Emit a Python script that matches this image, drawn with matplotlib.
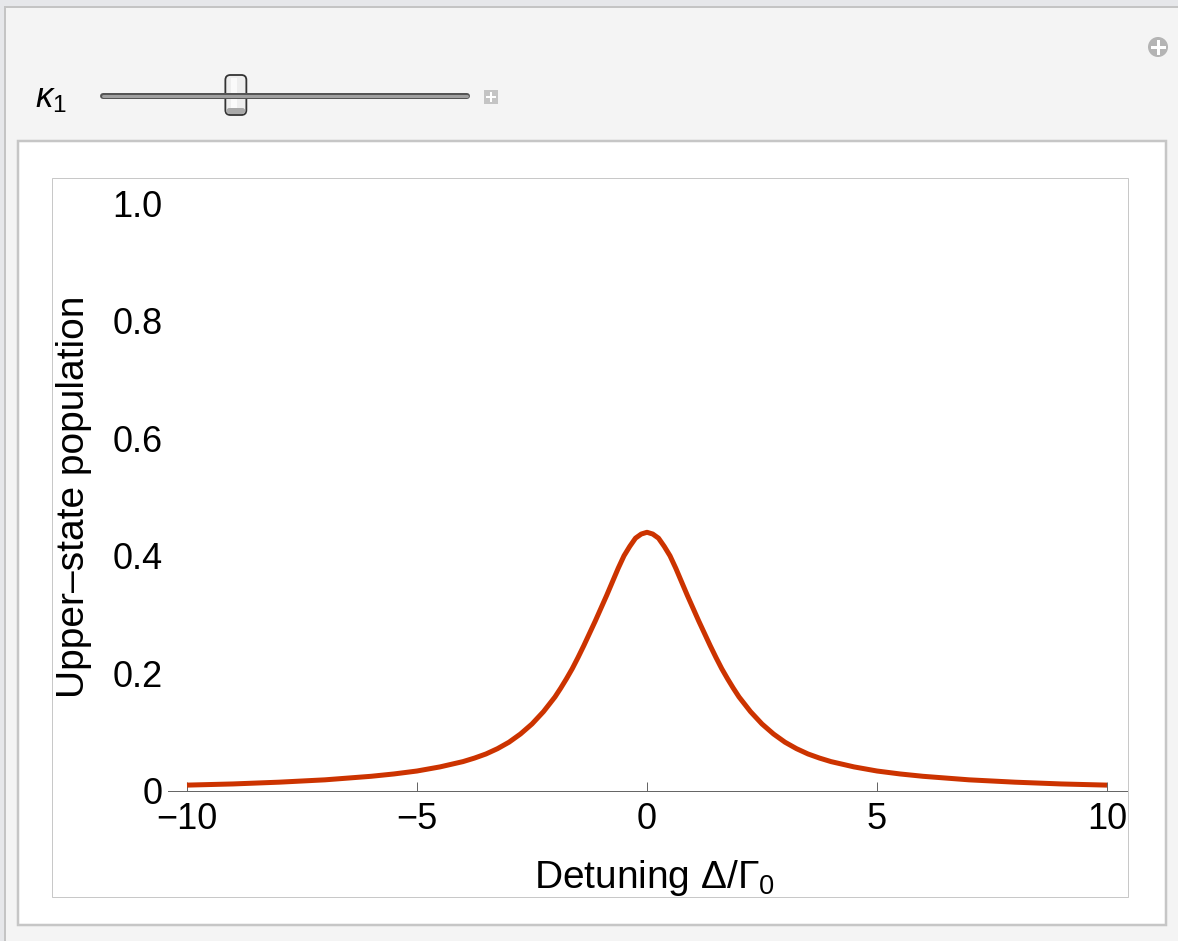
# -*- encoding: utf-8 -*-
import matplotlib
matplotlib.use('Agg')
import matplotlib.pyplot as plt
from matplotlib.patches import Rectangle, FancyBboxPatch, Circle

# values (right half; curve is symmetric)
detuning_right = [0, 0.125, 0.25, 0.375, 0.5, 0.625, 0.75, 0.875, 1.0, 1.125, 1.25,
                  1.375, 1.5, 1.625, 1.75, 1.875, 2.0, 2.25, 2.5, 2.75, 3.0, 3.25,
                  3.5, 3.75, 4.0, 4.5, 5.0, 5.5, 6.0, 6.5, 7.0, 8.0, 9.0, 10.0]
population_right = [0.440, 0.437, 0.430, 0.416, 0.400, 0.379, 0.356, 0.333, 0.311,
                    0.289, 0.268, 0.247, 0.227, 0.208, 0.191, 0.175, 0.160, 0.135,
                    0.114, 0.097, 0.083, 0.072, 0.063, 0.056, 0.050, 0.041, 0.034,
                    0.029, 0.025, 0.022, 0.019, 0.015, 0.012, 0.010]
detuning = [-d for d in detuning_right[:0:-1]] + detuning_right
population = population_right[:0:-1] + population_right

x_ticks = [-10, -5, 0, 5, 10]
x_tick_labels = ['\u221210', '\u22125', '0', '5', '10']
y_ticks = [0, 0.2, 0.4, 0.6, 0.8, 1.0]
y_tick_labels = ['0', '0.2', '0.4', '0.6', '0.8', '1.0']
kappa1_min, kappa1_max = 0.0, 1.0
kappa1 = 0.365

W, H = 1178, 941
PT = 0.72  # points per pixel at dpi 100
TICK_SIZE = 26
LABEL_SIZE = 28
RED = '#cc3300'

plt.rcParams['font.family'] = ['Liberation Sans', 'DejaVu Sans']
plt.rcParams['mathtext.fontset'] = 'custom'
plt.rcParams['mathtext.rm'] = 'Liberation Sans'
plt.rcParams['mathtext.it'] = 'Liberation Sans:italic'

fig = plt.figure(figsize=(W / 100, H / 100), dpi=100, facecolor='#e6e7ea')

# panel drawn in pixel coordinates
bg = fig.add_axes([0, 0, 1, 1])
bg.set_xlim(0, W)
bg.set_ylim(H, 0)
bg.axis('off')
bg.add_patch(Rectangle((5, 7), W + 10, H + 10, facecolor='#f4f4f4',
                       edgecolor='#c4c4c4', linewidth=2 * PT))
bg.add_patch(Rectangle((18, 141), 1166 - 18, 925 - 141, facecolor='white',
                       edgecolor='#c6c6c6', linewidth=2.5 * PT))
bg.add_patch(Rectangle((52, 178), 1128 - 52, 897 - 178, facecolor='white',
                       edgecolor='#c8c8c8', linewidth=1 * PT))

# slider
bg.text(35, 98, r'$\kappa_1$', fontsize=25, va='center', ha='left')
x0, x1 = 103, 467
bg.plot([x0, x1], [96, 96], color='#555555', linewidth=6 * PT, solid_capstyle='round')
bg.plot([x0, x1], [96, 96], color='#a0a0a0', linewidth=3 * PT, solid_capstyle='round')
tx = x0 + (x1 - x0) * (kappa1 - kappa1_min) / (kappa1_max - kappa1_min)
bg.add_patch(FancyBboxPatch((tx - 10.5, 75), 21, 40, boxstyle='round,pad=0,rounding_size=5',
                            facecolor='#eeeeee', edgecolor='#333333', linewidth=1.8 * PT))
bg.add_patch(Rectangle((tx - 5, 78), 6, 30, facecolor='#fafafa', edgecolor='none'))
bg.add_patch(FancyBboxPatch((tx - 9.5, 108), 19, 6, boxstyle='round,pad=0,rounding_size=3',
                            facecolor='#a9a9a9', edgecolor='none'))
bg.add_patch(Rectangle((484, 90), 14, 14, facecolor='#c4c4c4', edgecolor='none'))
bg.plot([487, 495], [97, 97], color='white', linewidth=2 * PT)
bg.plot([491, 491], [93, 101], color='white', linewidth=2 * PT)

# plus button top right
bg.add_patch(Circle((1158, 47), 10, facecolor='#b4b4b4', edgecolor='none'))
bg.plot([1152, 1164], [47, 47], color='white', linewidth=3 * PT)
bg.plot([1158, 1158], [41, 53], color='white', linewidth=3 * PT)

# plot area
ax = fig.add_axes([168 / W, (H - 897) / H, (1127 - 168) / W, (897 - 178) / H])
ax.patch.set_alpha(0)
ax.plot(detuning, population, color=RED, linewidth=5 * PT, solid_capstyle='butt',
        solid_joinstyle='round')
ax.set_xlim(-10 - 19 / 46, 10 + 20 / 46)
ax.set_ylim(-106 / 588, 613 / 588)
for s in ['left', 'right', 'top']:
    ax.spines[s].set_visible(False)
ax.spines['bottom'].set_position(('data', 0))
ax.spines['bottom'].set_color('#666666')
ax.spines['bottom'].set_linewidth(1 * PT)
ax.set_xticks(x_ticks, x_tick_labels)
ax.set_yticks(y_ticks, y_tick_labels)
ax.tick_params(axis='x', direction='in', length=9 * PT, width=1 * PT, color='#666666',
               labelsize=TICK_SIZE, pad=8)
ax.tick_params(axis='y', length=0, labelsize=TICK_SIZE, pad=4)

ax.set_xlabel('Detuning \u0394/\u0393$_0$', fontsize=LABEL_SIZE)
ax.xaxis.set_label_coords((655 - 168) / 959, (897 - 888) / 719)
ax.xaxis.label.set_verticalalignment('baseline')
ax.set_ylabel('Upper\u2013state population', fontsize=LABEL_SIZE)
ax.yaxis.set_label_coords((74 - 168) / 959, (897 - 497) / 719)
ax.yaxis.label.set_verticalalignment('center')

fig.savefig('out.png', dpi=100, facecolor=fig.get_facecolor())
